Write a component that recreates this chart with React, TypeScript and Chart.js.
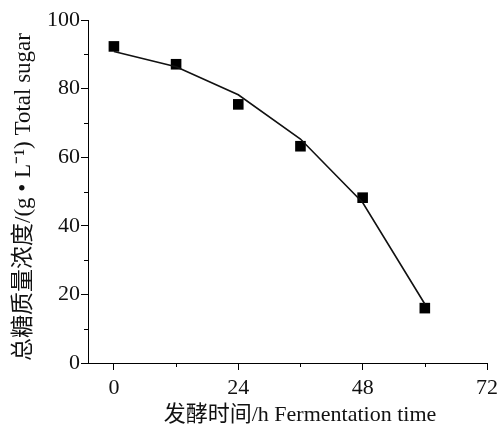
import React, { useEffect, useRef } from "react";
import { Chart, registerables } from "chart.js";

Chart.register(...registerables);

const times = [0, 12, 24, 36, 48, 60];
const measuredSugar = [92.3, 87.1, 75.4, 63.2, 48.2, 16.0];
const fittedSugar = [90.8, 86.4, 78.2, 65.3, 46.8, 17.2];
const xMajorTicks = [0, 24, 48, 72];
const xMinorTicks = [12, 36, 60];
const yMinorTicks = [10, 30, 50, 70, 90];
const xTitle = "发酵时间/h Fermentation time";
const yTitle = "总糖质量浓度/(g • L⁻¹) Total sugar";

const FONT = '"Liberation Serif", "Noto Sans CJK SC", serif';

const extrasPlugin = {
  id: "extras",
  afterDraw(chart: any) {
    const ctx = chart.ctx;
    const xs = chart.scales.x;
    const ys = chart.scales.y;
    const area = chart.chartArea;
    ctx.save();
    ctx.strokeStyle = "#000";
    ctx.lineWidth = 1;
    ctx.beginPath();
    for (const v of xMinorTicks) {
      const px = Math.round(xs.getPixelForValue(v)) + 0.5;
      ctx.moveTo(px, area.bottom);
      ctx.lineTo(px, area.bottom + 4);
    }
    for (const v of yMinorTicks) {
      const py = Math.round(ys.getPixelForValue(v)) + 0.5;
      ctx.moveTo(area.left, py);
      ctx.lineTo(area.left - 4, py);
    }
    ctx.stroke();

    ctx.fillStyle = "#111";
    ctx.textAlign = "center";
    ctx.textBaseline = "middle";
    ctx.font = `22px ${FONT}`;
    ctx.fillText(xTitle, 300, 415);
    ctx.font = `23px ${FONT}`;
    ctx.translate(24, 197);
    ctx.rotate(-Math.PI / 2);
    ctx.fillText(yTitle, 0, 0);
    ctx.restore();
  },
};

export default function App() {
  const ref = useRef<HTMLCanvasElement>(null);
  useEffect(() => {
    const canvas = ref.current!;
    const chart = new Chart(canvas, {
      type: "line",
      data: {
        datasets: [
          {
            label: "fit",
            data: times.map((t, i) => ({ x: t, y: fittedSugar[i] })),
            borderColor: "#111",
            borderWidth: 1.6,
            pointRadius: 0,
            tension: 0,
            fill: false,
          },
          {
            label: "measured",
            data: times.map((t, i) => ({ x: t, y: measuredSugar[i] })),
            showLine: false,
            pointStyle: "rect",
            pointRadius: 7.5,
            pointBackgroundColor: "#000",
            pointBorderColor: "#000",
            pointBorderWidth: 0,
          },
        ],
      },
      options: {
        responsive: false,
        animation: false,
        layout: { padding: { left: 0, right: 16, top: 20, bottom: 0 } },
        plugins: {
          legend: { display: false },
          tooltip: { enabled: false },
        },
        scales: {
          x: {
            type: "linear",
            min: -5,
            max: 72,
            afterBuildTicks: (s: any) => {
              s.ticks = xMajorTicks.map((v) => ({ value: v }));
            },
            afterFit: (s: any) => {
              s.height = 65;
            },
            ticks: {
              color: "#111",
              font: { family: FONT, size: 22 },
              padding: 5,
              maxRotation: 0,
            },
            grid: {
              drawOnChartArea: false,
              drawTicks: true,
              tickLength: 7,
              tickColor: "#000",
            },
            border: { display: true, color: "#000", width: 1 },
          },
          y: {
            type: "linear",
            min: 0,
            max: 100,
            ticks: {
              stepSize: 20,
              color: "#111",
              font: { family: FONT, size: 22 },
              padding: 1,
            },
            afterFit: (s: any) => {
              s.width = 88;
            },
            grid: {
              drawOnChartArea: false,
              drawTicks: true,
              tickLength: 7,
              tickColor: "#000",
            },
            border: { display: true, color: "#000", width: 1 },
          },
        },
      },
      plugins: [extrasPlugin],
    } as any);
    return () => chart.destroy();
  }, []);
  return (
    <div style={{ position: "absolute", left: 0, top: 0, width: 503, height: 428, background: "#fff" }}>
      <canvas ref={ref} width={503} height={428} style={{ display: "block" }} />
    </div>
  );
}
